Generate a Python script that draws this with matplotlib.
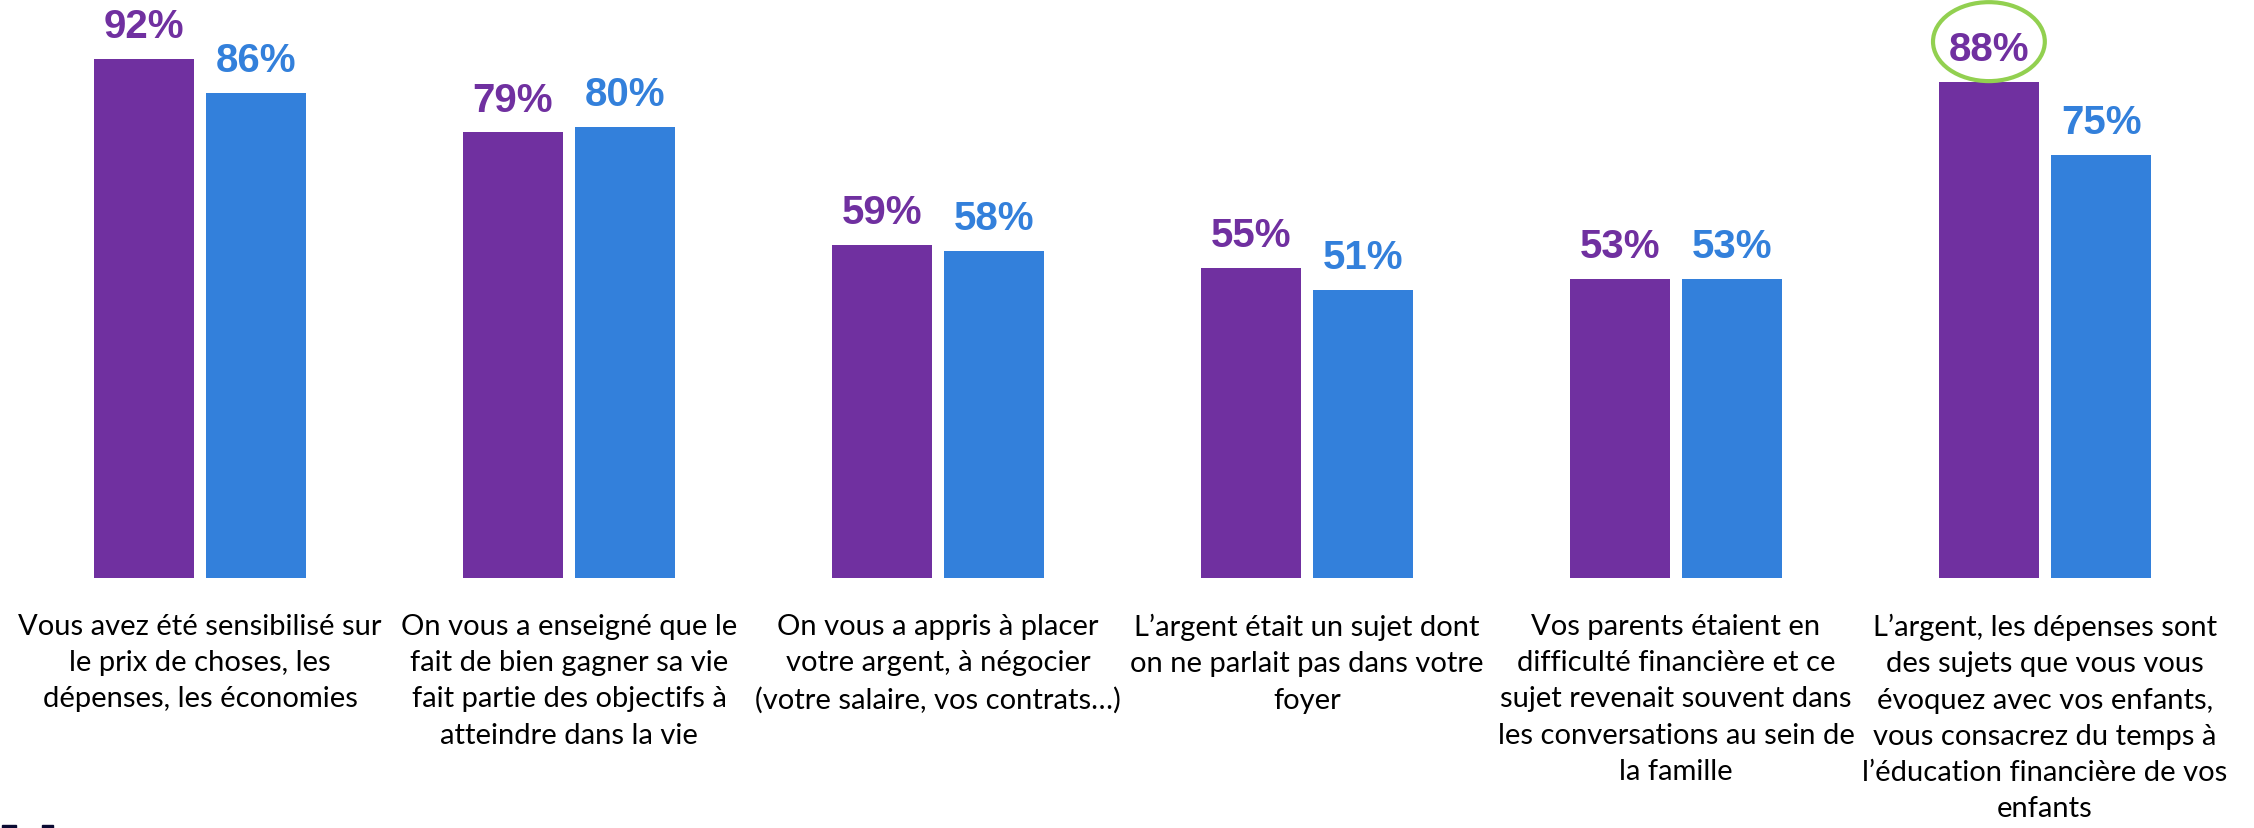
import matplotlib
matplotlib.use("Agg")
import matplotlib.pyplot as plt
from matplotlib.patches import Ellipse, Rectangle
import numpy as np

categories = [
    "Vous avez été sensibilisé sur\nle prix de choses, les\ndépenses, les économies",
    "On vous a enseigné que le\nfait de bien gagner sa vie\nfait partie des objectifs à\natteindre dans la vie",
    "On vous a appris à placer\nvotre argent, à négocier\n(votre salaire, vos contrats…)",
    "L’argent était un sujet dont\non ne parlait pas dans votre\nfoyer",
    "Vos parents étaient en\ndifficulté financière et ce\nsujet revenait souvent dans\nles conversations au sein de\nla famille",
    "L’argent, les dépenses sont\ndes sujets que vous vous\névoquez avec vos enfants,\nvous consacrez du temps à\nl’éducation financière de vos\nenfants",
]
series_a = [92, 79, 59, 55, 53, 88]
series_b = [86, 80, 58, 51, 53, 75]

purple = "#7030A0"
blue = "#3380DB"
green = "#92D050"

W, H = 2254, 829
fig = plt.figure(figsize=(W / 100, H / 100), dpi=100)
ax = fig.add_axes([0, (H - 579) / H, 1, 564 / H])

x = np.arange(len(categories))
bw = 0.271
off = 0.152
ax.bar(x - off, series_a, width=bw, color=purple)
ax.bar(x + off, series_b, width=bw, color=blue)

ax.set_xlim(-200 / 369, 5 + (W - 2045) / 369)
ax.set_ylim(0, 100)
ax.axis("off")

pct_font = dict(fontsize=29, fontweight="bold", family=["Liberation Sans", "DejaVu Sans"])
for xi, a, b in zip(x, series_a, series_b):
    ax.annotate(f"{a}%", (xi - off, a), xytext=(0, 10), textcoords="offset points",
                ha="center", va="bottom", color=purple, **pct_font)
    ax.annotate(f"{b}%", (xi + off, b), xytext=(0, 10), textcoords="offset points",
                ha="center", va="bottom", color=blue, **pct_font)

for xi, lab in zip(x, categories):
    ax.annotate(lab, (xi, 0), xytext=(0, -25), textcoords="offset points",
                ha="center", va="top", fontsize=21, family=["Lato", "DejaVu Sans"],
                linespacing=1.49, color="black", annotation_clip=False)

# highlight ellipse around the last purple label
i = len(series_a) - 1
ax.add_patch(Ellipse((x[i] - off, series_a[i] + 7.1), 0.303, 14.0,
                     fill=False, edgecolor=green, lw=3, clip_on=False))

# small marks at the bottom-left corner
for x0, w0 in [(2, 14), (42, 11)]:
    fig.patches.append(Rectangle((x0 / W, 0), w0 / W, 3 / H, transform=fig.transFigure,
                                 color="#0b0b33"))

fig.savefig("out.png", dpi=100)
